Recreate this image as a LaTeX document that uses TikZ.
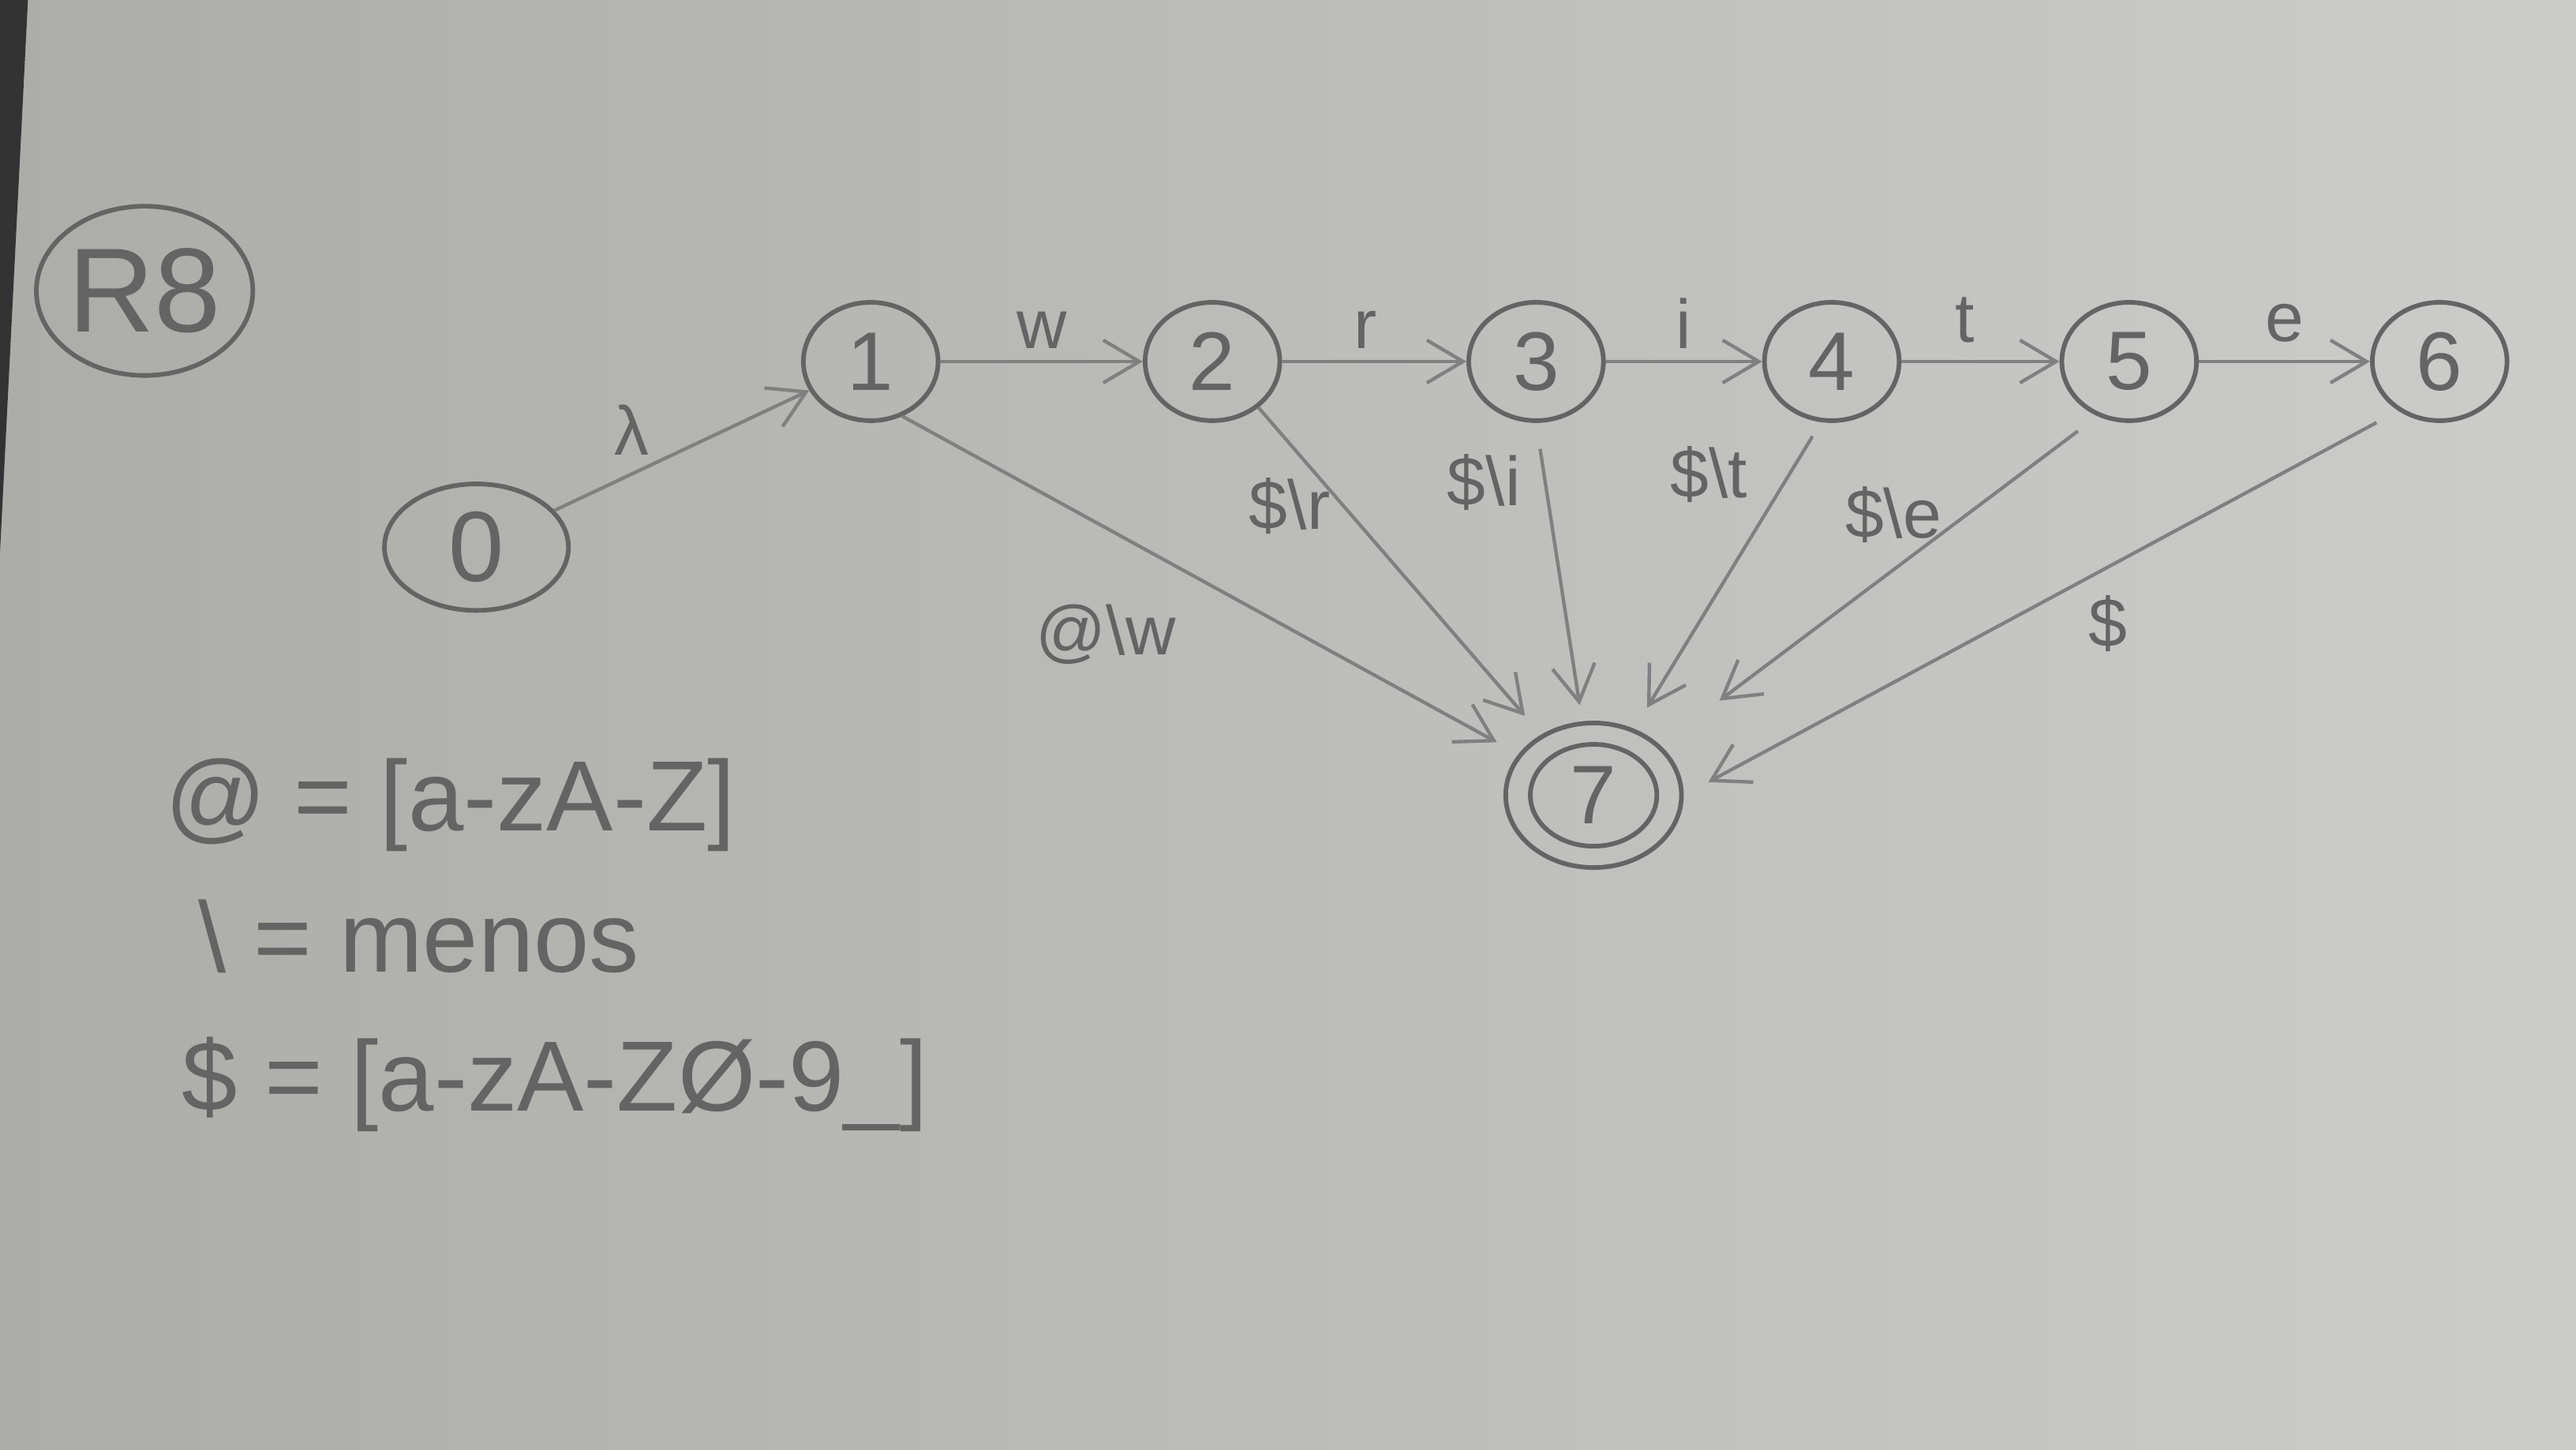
\documentclass[tikz,border=0pt]{standalone}
\usepackage{fontspec}
\setmainfont{Liberation Sans}
\usetikzlibrary{shapes,arrows.meta,positioning}

\definecolor{paperdark}{RGB}{172,173,168}
\definecolor{paperlight}{RGB}{204,204,203}
\definecolor{pencil}{RGB}{100,100,100}
\definecolor{pencillight}{RGB}{128,128,128}

\begin{document}
\begin{tikzpicture}[%
    >={Straight Barb[length=2.2mm,width=2.6mm]}, % Open pencil-like tips
    node distance=2cm,                            % Default state spacing
    ]
% -------------------------------------------------
% Styles for the states, the edges and the handwriting
\tikzset{
  state/.style={draw=pencil, line width=0.8pt, ellipse, inner sep=0pt,
                minimum width=8.2mm, minimum height=7.2mm,
                font=\Large, text=pencil},
  norm/.style={->, draw=pencillight, line width=0.6pt},
  lbl/.style={font=\large, text=pencil, inner sep=1pt},
  legend/.style={font=\LARGE, text=pencil, anchor=west, inner sep=0pt}
}
% -------------------------------------------------
% The sheet of paper
\useasboundingbox (0,0) rectangle (15.68,8.82);
\shade[left color=paperdark, right color=paperlight] (0,0) rectangle (15.68,8.82);
\fill[black!80] (0,8.82) -- (0.17,8.82) -- (0,5.46) -- cycle;
% -------------------------------------------------
% Title of the exercise
\node [state, minimum width=11.8mm, minimum height=10.3mm, font=\huge]
      (title) at (0.88,7.05) {R8};
% -------------------------------------------------
% Start by placing the states
\node [state, minimum width=11.2mm, minimum height=7.7mm, font=\LARGE]
      (s0) at (2.90,5.49) {0};
\node [state] (s1) at (5.30,6.62) {1};
\node [state, on grid, right=2.08cm of s1] (s2) {2};
\node [state, on grid, right=1.97cm of s2] (s3) {3};
\node [state, on grid, right=1.80cm of s3] (s4) {4};
\node [state, on grid, right=1.81cm of s4] (s5) {5};
\node [state, on grid, right=1.89cm of s5] (s6) {6};
% Final state: inner ring carries the label, outer ring takes the arrows
\node [state, minimum width=7.7mm, minimum height=6.2mm] (s7) at (9.70,3.98) {7};
\node [state, minimum width=10.7mm, minimum height=8.8mm] (s7o) at (s7) {};
% -------------------------------------------------
% Transitions along the keyword
\draw [norm] (s0) -- node[lbl, pos=.4, above left=0pt] {λ} (s1);
\draw [norm] (s1) -- node[lbl, above=1pt] {w} (s2);
\draw [norm] (s2) -- node[lbl, pos=.45, above=1pt] {r} (s3);
\draw [norm] (s3) -- node[lbl, above=1pt] {i} (s4);
\draw [norm] (s4) -- node[lbl, pos=.4, above=2pt] {t} (s5);
\draw [norm] (s5) -- node[lbl, above=2pt] {e} (s6);
% Escapes into the final state
\draw [norm, shorten >=1.5mm] (s1.-60) -- node[lbl, pos=.33, below=12pt] {@\textbackslash w} (s7o);
\draw [norm, shorten >=1.5mm] (s2.-45) -- node[lbl, pos=.3, left=1pt] {\$\textbackslash r} (s7o);
\draw [norm, shorten <=1.6mm, shorten >=1mm] (s3.south) -- node[lbl, pos=.2, left=3pt] {\$\textbackslash i} (s7o);
\draw [norm, shorten <=1mm, shorten >=1.5mm] (s4.-100) -- node[lbl, pos=.17, left=6pt] {\$\textbackslash t} (s7o);
\draw [norm, shorten <=1.5mm, shorten >=4.5mm] (s5.-120) -- node[lbl, pos=.3, left=3pt] {\$\textbackslash e} (s7o);
\draw [norm, shorten <=1.5mm, shorten >=1.7mm] (s6.-130) -- node[lbl, pos=.45, below right=1pt] {\$} (s7o.east);
% -------------------------------------------------
% Legend of the character classes
\node [legend] (legAt) at (1.00,3.92) {@ = [a-zA-Z]};
\node [legend] (legMinus) at (1.20,3.12) {\textbackslash\ = menos};
\node [legend] (legDollar) at (1.10,2.22) {\$ = [a-zA-Z\O-9\_]};
\end{tikzpicture}
\end{document}
